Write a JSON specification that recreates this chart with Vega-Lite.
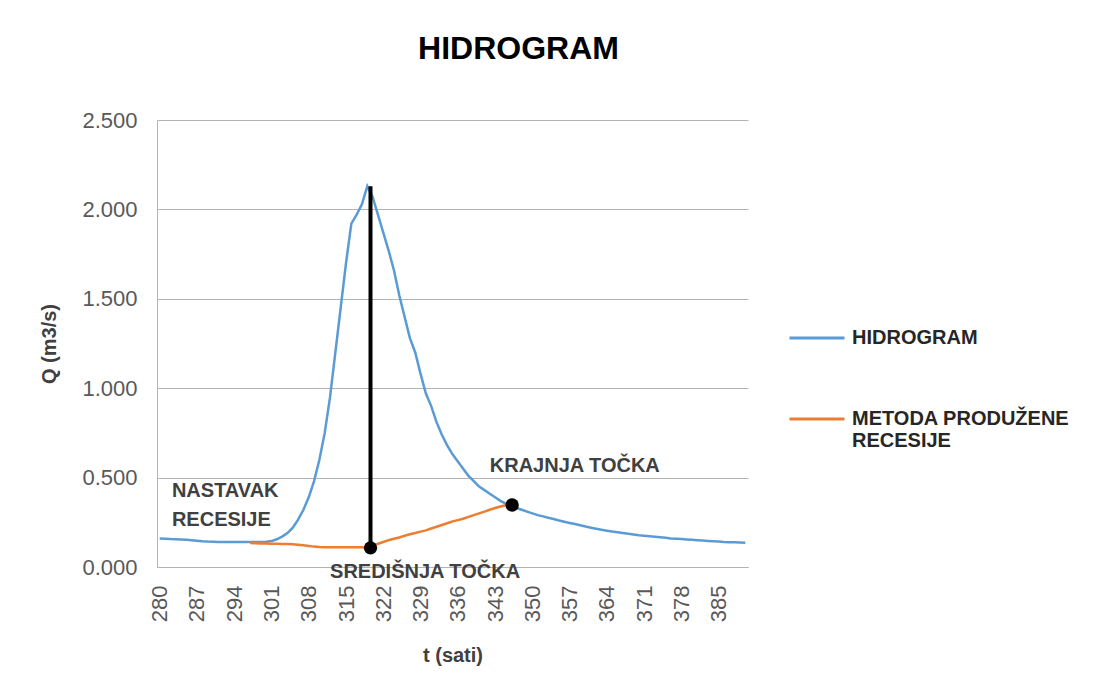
{
  "$schema": "https://vega.github.io/schema/vega-lite/v6.json",
  "autosize": {"type": "none"},
  "width": 591,
  "height": 447,
  "padding": {"left": 157, "top": 120, "right": 352, "bottom": 120},
  "background": "white",
  "title": {"text": "HIDROGRAM", "font": "Liberation Sans", "fontSize": 32, "fontWeight": "bold", "color": "#000000", "anchor": "middle", "dx": 66, "offset": 43},
  "config": {
    "view": {"stroke": null},
    "font": "Liberation Sans",
    "axis": {"labelFont": "Liberation Sans", "labelFontSize": 22, "labelColor": "#595959", "titleFont": "Liberation Sans", "titleFontSize": 20, "titleFontWeight": "bold", "titleColor": "#404040", "domainColor": "#b3b3b3", "gridColor": "#b3b3b3", "ticks": false, "labelOverlap": false},
    "axisX": {"labelOverlap": false, "labelFlush": false}
  },
  "datasets": {
    "series": [
      {"t": 280, "q": 0.160, "serija": "HIDROGRAM"},
      {"t": 281, "q": 0.158, "serija": "HIDROGRAM"},
      {"t": 282, "q": 0.156, "serija": "HIDROGRAM"},
      {"t": 283, "q": 0.155, "serija": "HIDROGRAM"},
      {"t": 284, "q": 0.154, "serija": "HIDROGRAM"},
      {"t": 285, "q": 0.152, "serija": "HIDROGRAM"},
      {"t": 286, "q": 0.150, "serija": "HIDROGRAM"},
      {"t": 287, "q": 0.147, "serija": "HIDROGRAM"},
      {"t": 288, "q": 0.144, "serija": "HIDROGRAM"},
      {"t": 289, "q": 0.142, "serija": "HIDROGRAM"},
      {"t": 290, "q": 0.141, "serija": "HIDROGRAM"},
      {"t": 291, "q": 0.140, "serija": "HIDROGRAM"},
      {"t": 292, "q": 0.140, "serija": "HIDROGRAM"},
      {"t": 293, "q": 0.140, "serija": "HIDROGRAM"},
      {"t": 294, "q": 0.140, "serija": "HIDROGRAM"},
      {"t": 295, "q": 0.140, "serija": "HIDROGRAM"},
      {"t": 296, "q": 0.140, "serija": "HIDROGRAM"},
      {"t": 297, "q": 0.140, "serija": "HIDROGRAM"},
      {"t": 298, "q": 0.140, "serija": "HIDROGRAM"},
      {"t": 299, "q": 0.140, "serija": "HIDROGRAM"},
      {"t": 300, "q": 0.141, "serija": "HIDROGRAM"},
      {"t": 301, "q": 0.145, "serija": "HIDROGRAM"},
      {"t": 302, "q": 0.155, "serija": "HIDROGRAM"},
      {"t": 303, "q": 0.170, "serija": "HIDROGRAM"},
      {"t": 304, "q": 0.190, "serija": "HIDROGRAM"},
      {"t": 305, "q": 0.220, "serija": "HIDROGRAM"},
      {"t": 306, "q": 0.265, "serija": "HIDROGRAM"},
      {"t": 307, "q": 0.320, "serija": "HIDROGRAM"},
      {"t": 308, "q": 0.390, "serija": "HIDROGRAM"},
      {"t": 309, "q": 0.480, "serija": "HIDROGRAM"},
      {"t": 310, "q": 0.600, "serija": "HIDROGRAM"},
      {"t": 311, "q": 0.750, "serija": "HIDROGRAM"},
      {"t": 312, "q": 0.950, "serija": "HIDROGRAM"},
      {"t": 313, "q": 1.200, "serija": "HIDROGRAM"},
      {"t": 314, "q": 1.450, "serija": "HIDROGRAM"},
      {"t": 315, "q": 1.700, "serija": "HIDROGRAM"},
      {"t": 316, "q": 1.920, "serija": "HIDROGRAM"},
      {"t": 317, "q": 1.970, "serija": "HIDROGRAM"},
      {"t": 318, "q": 2.030, "serija": "HIDROGRAM"},
      {"t": 319, "q": 2.130, "serija": "HIDROGRAM"},
      {"t": 320, "q": 2.070, "serija": "HIDROGRAM"},
      {"t": 321, "q": 1.970, "serija": "HIDROGRAM"},
      {"t": 322, "q": 1.870, "serija": "HIDROGRAM"},
      {"t": 323, "q": 1.770, "serija": "HIDROGRAM"},
      {"t": 324, "q": 1.660, "serija": "HIDROGRAM"},
      {"t": 325, "q": 1.520, "serija": "HIDROGRAM"},
      {"t": 326, "q": 1.400, "serija": "HIDROGRAM"},
      {"t": 327, "q": 1.280, "serija": "HIDROGRAM"},
      {"t": 328, "q": 1.200, "serija": "HIDROGRAM"},
      {"t": 329, "q": 1.080, "serija": "HIDROGRAM"},
      {"t": 330, "q": 0.970, "serija": "HIDROGRAM"},
      {"t": 331, "q": 0.900, "serija": "HIDROGRAM"},
      {"t": 332, "q": 0.810, "serija": "HIDROGRAM"},
      {"t": 333, "q": 0.740, "serija": "HIDROGRAM"},
      {"t": 334, "q": 0.680, "serija": "HIDROGRAM"},
      {"t": 335, "q": 0.630, "serija": "HIDROGRAM"},
      {"t": 336, "q": 0.590, "serija": "HIDROGRAM"},
      {"t": 337, "q": 0.550, "serija": "HIDROGRAM"},
      {"t": 338, "q": 0.510, "serija": "HIDROGRAM"},
      {"t": 339, "q": 0.480, "serija": "HIDROGRAM"},
      {"t": 340, "q": 0.450, "serija": "HIDROGRAM"},
      {"t": 341, "q": 0.430, "serija": "HIDROGRAM"},
      {"t": 342, "q": 0.410, "serija": "HIDROGRAM"},
      {"t": 343, "q": 0.390, "serija": "HIDROGRAM"},
      {"t": 344, "q": 0.370, "serija": "HIDROGRAM"},
      {"t": 345, "q": 0.355, "serija": "HIDROGRAM"},
      {"t": 346, "q": 0.345, "serija": "HIDROGRAM"},
      {"t": 347, "q": 0.330, "serija": "HIDROGRAM"},
      {"t": 348, "q": 0.320, "serija": "HIDROGRAM"},
      {"t": 349, "q": 0.310, "serija": "HIDROGRAM"},
      {"t": 350, "q": 0.300, "serija": "HIDROGRAM"},
      {"t": 351, "q": 0.290, "serija": "HIDROGRAM"},
      {"t": 352, "q": 0.283, "serija": "HIDROGRAM"},
      {"t": 353, "q": 0.275, "serija": "HIDROGRAM"},
      {"t": 354, "q": 0.268, "serija": "HIDROGRAM"},
      {"t": 355, "q": 0.260, "serija": "HIDROGRAM"},
      {"t": 356, "q": 0.253, "serija": "HIDROGRAM"},
      {"t": 357, "q": 0.246, "serija": "HIDROGRAM"},
      {"t": 358, "q": 0.240, "serija": "HIDROGRAM"},
      {"t": 359, "q": 0.233, "serija": "HIDROGRAM"},
      {"t": 360, "q": 0.226, "serija": "HIDROGRAM"},
      {"t": 361, "q": 0.220, "serija": "HIDROGRAM"},
      {"t": 362, "q": 0.214, "serija": "HIDROGRAM"},
      {"t": 363, "q": 0.208, "serija": "HIDROGRAM"},
      {"t": 364, "q": 0.203, "serija": "HIDROGRAM"},
      {"t": 365, "q": 0.198, "serija": "HIDROGRAM"},
      {"t": 366, "q": 0.194, "serija": "HIDROGRAM"},
      {"t": 367, "q": 0.190, "serija": "HIDROGRAM"},
      {"t": 368, "q": 0.186, "serija": "HIDROGRAM"},
      {"t": 369, "q": 0.182, "serija": "HIDROGRAM"},
      {"t": 370, "q": 0.178, "serija": "HIDROGRAM"},
      {"t": 371, "q": 0.175, "serija": "HIDROGRAM"},
      {"t": 372, "q": 0.172, "serija": "HIDROGRAM"},
      {"t": 373, "q": 0.169, "serija": "HIDROGRAM"},
      {"t": 374, "q": 0.166, "serija": "HIDROGRAM"},
      {"t": 375, "q": 0.163, "serija": "HIDROGRAM"},
      {"t": 376, "q": 0.160, "serija": "HIDROGRAM"},
      {"t": 377, "q": 0.158, "serija": "HIDROGRAM"},
      {"t": 378, "q": 0.156, "serija": "HIDROGRAM"},
      {"t": 379, "q": 0.154, "serija": "HIDROGRAM"},
      {"t": 380, "q": 0.152, "serija": "HIDROGRAM"},
      {"t": 381, "q": 0.150, "serija": "HIDROGRAM"},
      {"t": 382, "q": 0.148, "serija": "HIDROGRAM"},
      {"t": 383, "q": 0.146, "serija": "HIDROGRAM"},
      {"t": 384, "q": 0.144, "serija": "HIDROGRAM"},
      {"t": 385, "q": 0.142, "serija": "HIDROGRAM"},
      {"t": 386, "q": 0.140, "serija": "HIDROGRAM"},
      {"t": 387, "q": 0.139, "serija": "HIDROGRAM"},
      {"t": 388, "q": 0.138, "serija": "HIDROGRAM"},
      {"t": 389, "q": 0.137, "serija": "HIDROGRAM"},
      {"t": 390, "q": 0.136, "serija": "HIDROGRAM"},
      {"t": 297, "q": 0.134, "serija": "METODA PRODUŽENE RECESIJE"},
      {"t": 298, "q": 0.133, "serija": "METODA PRODUŽENE RECESIJE"},
      {"t": 299, "q": 0.132, "serija": "METODA PRODUŽENE RECESIJE"},
      {"t": 300, "q": 0.131, "serija": "METODA PRODUŽENE RECESIJE"},
      {"t": 301, "q": 0.130, "serija": "METODA PRODUŽENE RECESIJE"},
      {"t": 302, "q": 0.130, "serija": "METODA PRODUŽENE RECESIJE"},
      {"t": 303, "q": 0.129, "serija": "METODA PRODUŽENE RECESIJE"},
      {"t": 304, "q": 0.128, "serija": "METODA PRODUŽENE RECESIJE"},
      {"t": 305, "q": 0.127, "serija": "METODA PRODUŽENE RECESIJE"},
      {"t": 306, "q": 0.125, "serija": "METODA PRODUŽENE RECESIJE"},
      {"t": 307, "q": 0.122, "serija": "METODA PRODUŽENE RECESIJE"},
      {"t": 308, "q": 0.118, "serija": "METODA PRODUŽENE RECESIJE"},
      {"t": 309, "q": 0.114, "serija": "METODA PRODUŽENE RECESIJE"},
      {"t": 310, "q": 0.112, "serija": "METODA PRODUŽENE RECESIJE"},
      {"t": 311, "q": 0.111, "serija": "METODA PRODUŽENE RECESIJE"},
      {"t": 312, "q": 0.110, "serija": "METODA PRODUŽENE RECESIJE"},
      {"t": 313, "q": 0.110, "serija": "METODA PRODUŽENE RECESIJE"},
      {"t": 314, "q": 0.110, "serija": "METODA PRODUŽENE RECESIJE"},
      {"t": 315, "q": 0.110, "serija": "METODA PRODUŽENE RECESIJE"},
      {"t": 316, "q": 0.110, "serija": "METODA PRODUŽENE RECESIJE"},
      {"t": 317, "q": 0.110, "serija": "METODA PRODUŽENE RECESIJE"},
      {"t": 318, "q": 0.110, "serija": "METODA PRODUŽENE RECESIJE"},
      {"t": 319, "q": 0.108, "serija": "METODA PRODUŽENE RECESIJE"},
      {"t": 320, "q": 0.115, "serija": "METODA PRODUŽENE RECESIJE"},
      {"t": 321, "q": 0.130, "serija": "METODA PRODUŽENE RECESIJE"},
      {"t": 322, "q": 0.140, "serija": "METODA PRODUŽENE RECESIJE"},
      {"t": 323, "q": 0.150, "serija": "METODA PRODUŽENE RECESIJE"},
      {"t": 324, "q": 0.158, "serija": "METODA PRODUŽENE RECESIJE"},
      {"t": 325, "q": 0.165, "serija": "METODA PRODUŽENE RECESIJE"},
      {"t": 326, "q": 0.175, "serija": "METODA PRODUŽENE RECESIJE"},
      {"t": 327, "q": 0.183, "serija": "METODA PRODUŽENE RECESIJE"},
      {"t": 328, "q": 0.190, "serija": "METODA PRODUŽENE RECESIJE"},
      {"t": 329, "q": 0.198, "serija": "METODA PRODUŽENE RECESIJE"},
      {"t": 330, "q": 0.205, "serija": "METODA PRODUŽENE RECESIJE"},
      {"t": 331, "q": 0.215, "serija": "METODA PRODUŽENE RECESIJE"},
      {"t": 332, "q": 0.225, "serija": "METODA PRODUŽENE RECESIJE"},
      {"t": 333, "q": 0.235, "serija": "METODA PRODUŽENE RECESIJE"},
      {"t": 334, "q": 0.245, "serija": "METODA PRODUŽENE RECESIJE"},
      {"t": 335, "q": 0.255, "serija": "METODA PRODUŽENE RECESIJE"},
      {"t": 336, "q": 0.262, "serija": "METODA PRODUŽENE RECESIJE"},
      {"t": 337, "q": 0.270, "serija": "METODA PRODUŽENE RECESIJE"},
      {"t": 338, "q": 0.280, "serija": "METODA PRODUŽENE RECESIJE"},
      {"t": 339, "q": 0.290, "serija": "METODA PRODUŽENE RECESIJE"},
      {"t": 340, "q": 0.300, "serija": "METODA PRODUŽENE RECESIJE"},
      {"t": 341, "q": 0.310, "serija": "METODA PRODUŽENE RECESIJE"},
      {"t": 342, "q": 0.320, "serija": "METODA PRODUŽENE RECESIJE"},
      {"t": 343, "q": 0.330, "serija": "METODA PRODUŽENE RECESIJE"},
      {"t": 344, "q": 0.338, "serija": "METODA PRODUŽENE RECESIJE"},
      {"t": 345, "q": 0.345, "serija": "METODA PRODUŽENE RECESIJE"},
      {"t": 346, "q": 0.347, "serija": "METODA PRODUŽENE RECESIJE"}
    ],
    "tocke": [
      {"t": 319.6, "q": 0.107, "vrh": 2.13},
      {"t": 346.2, "q": 0.347, "vrh": null}
    ],
    "oznake": [
      {"t": 282.3, "q": 0.425, "tekst": "NASTAVAK"},
      {"t": 282.3, "q": 0.263, "tekst": "RECESIJE"},
      {"t": 312.0, "q": -0.028, "tekst": "SREDIŠNJA TOČKA"},
      {"t": 342.0, "q": 0.565, "tekst": "KRAJNJA TOČKA"}
    ]
  },
  "layer": [
    {
      "data": {"name": "series"},
      "mark": {"type": "line", "strokeWidth": 2.5, "clip": false},
      "encoding": {
        "x": {"field": "t", "type": "quantitative", "scale": {"domain": [279.5, 390.5], "nice": false, "zero": false},
          "axis": {"title": "t (sati)", "values": [280, 287, 294, 301, 308, 315, 322, 329, 336, 343, 350, 357, 364, 371, 378, 385], "tickCount": 40, "labelAngle": -90, "labelAlign": "right", "labelBaseline": "middle", "labelPadding": 18, "grid": false, "titlePadding": 24, "format": "d", "labelFlush": false, "labelOverlap": false}},
        "y": {"field": "q", "type": "quantitative", "scale": {"domain": [0, 2.5], "nice": false},
          "axis": {"title": "Q (m3/s)", "values": [0, 0.5, 1, 1.5, 2, 2.5], "tickCount": 20, "format": ".3f", "labelPadding": 20, "titlePadding": 22, "grid": true}},
        "color": {"field": "serija", "type": "nominal",
          "scale": {"domain": ["HIDROGRAM", "METODA PRODUŽENE RECESIJE"], "range": ["#5B9BD5", "#ED7D31"]},
          "legend": {"title": null, "orient": "none", "legendX": 631, "legendY": 189, "symbolType": "stroke", "symbolSize": 3025, "symbolStrokeWidth": 3, "labelFont": "Liberation Sans", "labelFontSize": 20, "labelFontWeight": "bold", "labelColor": "#262626", "labelLimit": 400, "rowPadding": 42, "labelOffset": 6,
            "labelExpr": "datum.label == 'METODA PRODUŽENE RECESIJE' ? ['METODA PRODUŽENE', 'RECESIJE'] : datum.label"}}
      }
    },
    {
      "data": {"name": "tocke"},
      "transform": [{"filter": "datum.vrh != null"}],
      "mark": {"type": "rule", "color": "#000000", "strokeWidth": 4},
      "encoding": {
        "x": {"field": "t", "type": "quantitative"},
        "y": {"field": "q", "type": "quantitative"},
        "y2": {"field": "vrh"}
      }
    },
    {
      "data": {"name": "tocke"},
      "mark": {"type": "point", "filled": true, "color": "#000000", "opacity": 1, "size": 180},
      "encoding": {
        "x": {"field": "t", "type": "quantitative"},
        "y": {"field": "q", "type": "quantitative"}
      }
    },
    {
      "data": {"name": "oznake"},
      "mark": {"type": "text", "align": "left", "baseline": "middle", "font": "Liberation Sans", "fontSize": 20, "fontWeight": "bold", "color": "#404040", "clip": false},
      "encoding": {
        "x": {"field": "t", "type": "quantitative"},
        "y": {"field": "q", "type": "quantitative"},
        "text": {"field": "tekst", "type": "nominal"}
      }
    }
  ]
}
